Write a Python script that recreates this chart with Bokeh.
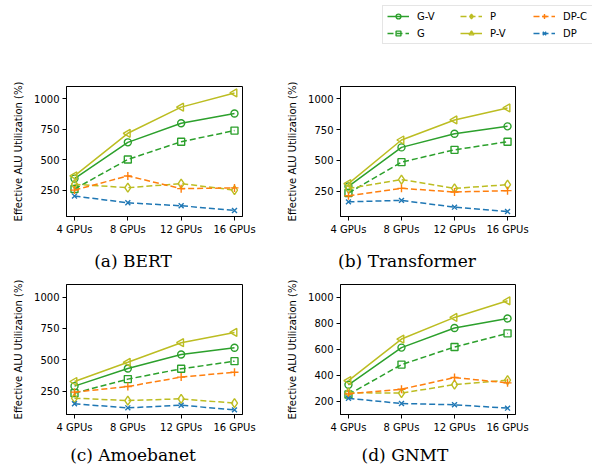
import math
from bokeh.plotting import figure
from bokeh.layouts import column, row, Spacer
from bokeh.models import Range1d, FixedTicker, Legend, LegendItem, Div
from bokeh.embed import file_html
from bokeh.resources import INLINE

# ---------------- data ----------------
x_labels = ["4 GPUs", "8 GPUs", "12 GPUs", "16 GPUs"]
x_pos = [0, 1, 2, 3]
series_names = ["G-V", "G", "P", "P-V", "DP-C", "DP"]

bert_gv = [346, 643, 799, 879]
bert_g = [261, 503, 648, 739]
bert_p = [300, 272, 305, 252]
bert_pv = [368, 717, 931, 1047]
bert_dpc = [252, 368, 264, 270]
bert_dp = [203, 148, 124, 85]

trans_gv = [288, 605, 716, 776]
trans_g = [234, 485, 585, 651]
trans_p = [270, 343, 272, 302]
trans_pv = [310, 665, 828, 926]
trans_dpc = [212, 272, 242, 253]
trans_dp = [162, 174, 119, 84]

amoeba_gv = [290, 431, 542, 596]
amoeba_g = [234, 346, 428, 489]
amoeba_p = [194, 175, 189, 154]
amoeba_pv = [327, 480, 636, 718]
amoeba_dpc = [242, 287, 362, 401]
amoeba_dp = [149, 117, 138, 101]

gnmt_gv = [326, 613, 764, 838]
gnmt_g = [251, 482, 618, 723]
gnmt_p = [265, 262, 328, 362]
gnmt_pv = [359, 679, 846, 974]
gnmt_dpc = [256, 292, 382, 341]
gnmt_dp = [222, 182, 172, 146]

yticks_abc = [250, 500, 750, 1000]
yticks_d = [200, 400, 600, 800, 1000]
captions = ["(a) BERT", "(b) Transformer", "(c) Amoebanet", "(d) GNMT"]

# ---------------- styles ----------------
GREEN, OLIVE, ORANGE, BLUE = "#2ca02c", "#bcbd22", "#ff7f0e", "#1f77b4"
DASH = "6 3"
styles = {
    "G-V": dict(color=GREEN, dash="solid", marker="circle", size=7, angle=0.0),
    "G": dict(color=GREEN, dash=DASH, marker="square", size=7, angle=0.0),
    "P": dict(color=OLIVE, dash=DASH, marker="diamond", size=9, angle=0.0),
    "P-V": dict(color=OLIVE, dash="solid", marker="triangle", size=8, angle=math.pi / 2),
    "DP-C": dict(color=ORANGE, dash=DASH, marker="cross", size=8, angle=0.0),
    "DP": dict(color=BLUE, dash=DASH, marker="x", size=7, angle=0.0),
}


def add_series(p, name, xs, ys):
    st = styles[name]
    lr = p.line(xs, ys, line_color=st["color"], line_width=1.5, line_dash=st["dash"])
    sr = p.scatter(xs, ys, marker=st["marker"], size=st["size"], angle=st["angle"],
                   line_color=st["color"], fill_color=None, line_width=1.4)
    return lr, sr


def make_panel(series, y0, y1, yticks, width, height, bl, br, bt, bb):
    p = figure(width=width, height=height, x_range=Range1d(-0.15, 3.15),
               y_range=Range1d(y0, y1), output_backend="svg", toolbar_location=None,
               min_border_left=bl, min_border_right=br, min_border_top=bt,
               min_border_bottom=bb)
    p.grid.visible = False
    p.outline_line_color = "black"
    p.outline_line_width = 1
    p.xaxis.ticker = FixedTicker(ticks=x_pos)
    p.xaxis.major_label_overrides = {i: lab for i, lab in zip(x_pos, x_labels)}
    p.yaxis.ticker = FixedTicker(ticks=yticks)
    for ax in (p.xaxis, p.yaxis):
        ax.minor_tick_line_color = None
        ax.major_tick_in = 0
        ax.major_tick_out = 4
        ax.major_tick_line_color = "black"
        ax.axis_line_color = "black"
        ax.major_label_text_font = "DejaVu Sans"
        ax.major_label_text_font_size = "10px"
        ax.major_label_text_color = "black"
        ax.major_label_standoff = 3
    p.yaxis.axis_label = "Effective ALU Utilization (%)"
    p.yaxis.axis_label_text_font = "DejaVu Sans"
    p.yaxis.axis_label_text_font_size = "10px"
    p.yaxis.axis_label_text_font_style = "normal"
    p.yaxis.axis_label_text_color = "black"
    p.yaxis.axis_label_standoff = 7
    for name, ys in zip(series_names, series):
        add_series(p, name, x_pos, ys)
    return p


def make_caption(text, width, height, line_h):
    return Div(text=text, width=width, height=height, margin=(0, 0, 0, 0),
               styles={"font-family": "DejaVu Serif", "font-size": "17px",
                       "line-height": f"{line_h}px", "text-align": "center",
                       "color": "black", "white-space": "nowrap"})


pa = make_panel([bert_gv, bert_g, bert_p, bert_pv, bert_dpc, bert_dp], 36, 1100, yticks_abc,
                270, 192, 66, 28, 38, 24)
pb = make_panel([trans_gv, trans_g, trans_p, trans_pv, trans_dpc, trans_dp], 43, 1100, yticks_abc,
                322, 192, 70, 77, 38, 24)
pc = make_panel([amoeba_gv, amoeba_g, amoeba_p, amoeba_pv, amoeba_dpc, amoeba_dp], 64, 1100,
                yticks_abc, 270, 166, 66, 28, 12, 24)
pd = make_panel([gnmt_gv, gnmt_g, gnmt_p, gnmt_pv, gnmt_dpc, gnmt_dp], 97, 1100, yticks_d,
                322, 166, 70, 77, 12, 24)

ca = make_caption(captions[0], 266, 32, 42)
cb = make_caption(captions[1], 282, 32, 42)
cc = make_caption(captions[2], 266, 27, 34)
cd = make_caption(captions[3], 278, 27, 34)

# ---------------- legend ----------------
lf = figure(width=212, height=48, x_axis_location=None, y_axis_location=None,
            output_backend="svg", toolbar_location=None, min_border=0,
            min_border_left=2, min_border_top=5, outline_line_color=None,
            x_range=Range1d(10, 11), y_range=Range1d(5000, 5001))
lf.grid.visible = False
items = []
for name, ys in zip(series_names, [bert_gv, bert_g, bert_p, bert_pv, bert_dpc, bert_dp]):
    lr, sr = add_series(lf, name, x_pos, ys)
    items.append(LegendItem(label=name, renderers=[lr, sr]))
leg = Legend(items=items, orientation="vertical", nrows=2, location="top_left",
             label_text_font="DejaVu Sans", label_text_font_size="10px",
             label_text_color="black", glyph_width=22, glyph_height=12,
             label_standoff=8, spacing=5, padding=4, margin=0, label_height=12,
             label_width=38, border_line_color="#cccccc", border_line_width=1)
lf.add_layout(leg)

layout = column(
    row(Spacer(width=380, height=48), lf),
    row(pa, pb),
    row(ca, cb),
    row(pc, pd),
    row(cc, cd),
)

open("out.html", "w").write(file_html(layout, INLINE))
